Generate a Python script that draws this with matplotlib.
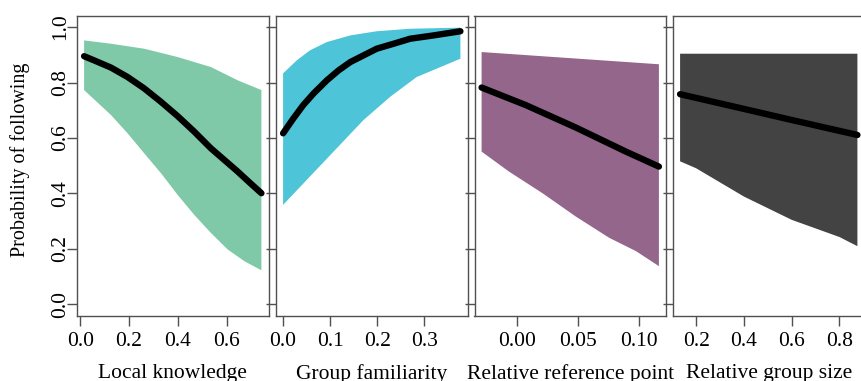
import numpy as np
import matplotlib
matplotlib.use('Agg')
import matplotlib.pyplot as plt

plt.rcParams['font.family'] = ['Liberation Serif', 'DejaVu Serif']

# panel 1: local knowledge
lk_x = [0.016, 0.057, 0.126, 0.194, 0.262, 0.33, 0.399, 0.467, 0.535, 0.59, 0.645, 0.693, 0.742]
lk_fit = [0.895, 0.880, 0.854, 0.820, 0.779, 0.731, 0.679, 0.623, 0.563, 0.521, 0.479, 0.440, 0.401]
lk_hi_x = [0.016, 0.126, 0.262, 0.399, 0.535, 0.645, 0.742]
lk_hi = [0.952, 0.940, 0.922, 0.892, 0.856, 0.808, 0.773]
lk_lo_x = [0.016, 0.126, 0.194, 0.262, 0.331, 0.399, 0.467, 0.535, 0.604, 0.672, 0.742]
lk_lo = [0.773, 0.683, 0.617, 0.545, 0.473, 0.395, 0.323, 0.258, 0.198, 0.156, 0.123]

# panel 2: group familiarity
gf_x = [0.0, 0.022, 0.043, 0.065, 0.093, 0.118, 0.143, 0.171, 0.199, 0.235, 0.27, 0.32, 0.377]
gf_fit = [0.617, 0.671, 0.719, 0.761, 0.808, 0.844, 0.874, 0.898, 0.922, 0.940, 0.958, 0.970, 0.985]
gf_hi_x = [0.0, 0.029, 0.057, 0.093, 0.143, 0.199, 0.27, 0.377]
gf_hi = [0.833, 0.880, 0.916, 0.946, 0.970, 0.985, 0.994, 0.998]
gf_lo_x = [0.0, 0.057, 0.114, 0.171, 0.228, 0.284, 0.377]
gf_lo = [0.359, 0.461, 0.563, 0.665, 0.749, 0.820, 0.886]

# panel 3: relative reference point
rp_x = [-0.029, 0.007, 0.048, 0.089, 0.116]
rp_fit = [0.782, 0.719, 0.638, 0.551, 0.497]
rp_hi_x = [-0.029, 0.116]
rp_hi = [0.910, 0.866]
rp_lo_x = [-0.029, -0.0066, 0.0208, 0.048, 0.0754, 0.0973, 0.116]
rp_lo = [0.551, 0.479, 0.401, 0.317, 0.240, 0.192, 0.138]

# panel 4: relative group size
gs_x = [0.133, 0.4, 0.6, 0.875]
gs_fit = [0.758, 0.705, 0.665, 0.611]
gs_hi_x = [0.133, 0.875]
gs_hi = [0.904, 0.904]
gs_lo_x = [0.133, 0.2, 0.4, 0.6, 0.8, 0.875]
gs_lo = [0.516, 0.491, 0.389, 0.305, 0.243, 0.21]

panels = [
    ('Local knowledge', lk_x, lk_fit, lk_hi_x, lk_hi, lk_lo_x, lk_lo, '#7fc9a8',
     [0.0, 0.2, 0.4, 0.6], ['0.0', '0.2', '0.4', '0.6']),
    ('Group familiarity', gf_x, gf_fit, gf_hi_x, gf_hi, gf_lo_x, gf_lo, '#4dc4d7',
     [0.0, 0.1, 0.2, 0.3], ['0.0', '0.1', '0.2', '0.3']),
    ('Relative reference point', rp_x, rp_fit, rp_hi_x, rp_hi, rp_lo_x, rp_lo, '#94668b',
     [0.0, 0.05, 0.10], ['0.00', '0.05', '0.10']),
    ('Relative group size', gs_x, gs_fit, gs_hi_x, gs_hi, gs_lo_x, gs_lo, '#434343',
     [0.2, 0.4, 0.6, 0.8], ['0.2', '0.4', '0.6', '0.8']),
]

W, H = 861, 381
fig = plt.figure(figsize=(W / 100, H / 100), dpi=100)

lefts = [77, 276, 474.5, 673]
width = 191.5
top, bottom = 16, 315.5

for i, (label, x, fit, hx, hi, lx, lo, col, ticks, ticklabels) in enumerate(panels):
    ax = fig.add_axes([lefts[i] / W, 1 - bottom / H, width / W, (bottom - top) / H])
    # confidence band as one polygon: upper edge then lower edge reversed
    ax.fill(list(hx) + list(lx)[::-1], list(hi) + list(lo)[::-1],
            color=col, linewidth=0)
    ax.plot(x, fit, color='black', lw=4.6, solid_capstyle='round',
            solid_joinstyle='round')

    rng = max(x) - min(x)
    ax.set_xlim(min(x) - 0.04 * rng, max(x) + 0.04 * rng)
    ax.set_ylim(-0.04, 1.04)

    ax.set_xticks(ticks)
    ax.set_xticklabels(ticklabels)
    ax.set_yticks([0.0, 0.2, 0.4, 0.6, 0.8, 1.0])
    for s in ax.spines.values():
        s.set_color('#505050')
        s.set_linewidth(1.0)
    ax.tick_params(axis='both', direction='out', length=7, width=1.0,
                   color='#505050', labelsize=15.5)
    ax.tick_params(axis='x', pad=5)
    ax.tick_params(axis='y', pad=-2, labelrotation=90)
    for t in ax.get_yticklabels():
        t.set_verticalalignment('center')
    if i > 0:
        ax.set_yticklabels([])
    else:
        ax.set_yticklabels(['0.0', '0.2', '0.4', '0.6', '0.8', '1.0'])
        ax.set_ylabel('Probability of following', fontsize=14.5)
        ax.yaxis.set_label_coords(-0.245, 0.52)
    ax.set_xlabel(label, fontsize=15.5, labelpad=9)

plt.savefig('out.png', dpi=100)
